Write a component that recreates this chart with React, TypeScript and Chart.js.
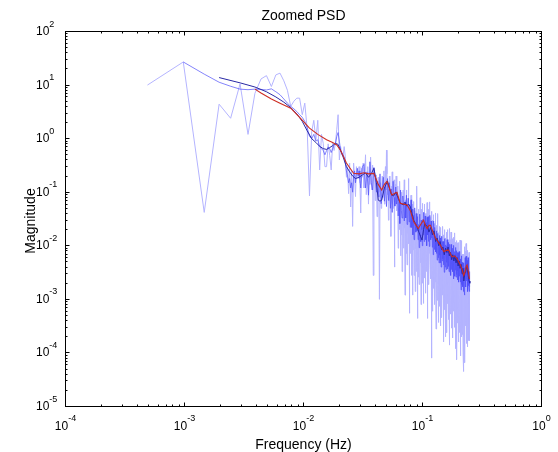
import React, { useEffect, useRef } from 'react';
import { Chart, registerables } from 'chart.js';

Chart.register(...registerables);

// ---------------- data ----------------
const BIN_HZ = 1 / 2048; // frequency resolution of the periodogram (Hz per bin)

const chartTitle = 'Zoomed PSD';
const xAxisTitle = 'Frequency (Hz)';
const yAxisTitle = 'Magnitude';

const xTickExps = [-4, -3, -2, -1, 0];
const yTickExps = [-5, -4, -3, -2, -1, 0, 1, 2];

// raw periodogram, bins 1..128
const rawLowStartBin = 1;
const rawLow = [
  10, 27, 0.042, 4.4, 2.4, 10.5, 1.2, 7, 13, 15,
  9.4, 15.5, 16.7, 12, 8, 4, 5, 5.7, 5.7, 2.8,
  4.6, 1.5, 0.085, 1.35, 2.2, 0.95, 2.2, 0.26, 1.2, 0.82,
  0.3, 0.3, 0.8, 0.49, 0.26, 0.82, 0.6, 0.82, 1.5, 2.8,
  0.4, 0.71, 0.5, 0.46, 0.71, 0.46, 0.19, 0.3, 0.094, 0.35,
  0.053, 0.25, 0.023, 0.35, 0.2, 0.083, 0.3, 0.25, 0.18, 0.3,
  0.15, 0.041, 0.28, 0.19, 0.35, 0.12, 0.22, 0.5, 0.09, 0.17,
  0.3, 0.06, 0.24, 0.14, 0.45, 0.2, 0.11, 0.32, 0.0028, 0.18,
  0.26, 0.07, 0.16, 0.21, 0.035, 0.13, 0.19, 0.1, 0.001, 0.09,
  0.15, 0.05, 0.12, 0.2, 0.08, 0.14, 0.25, 0.06, 0.18, 0.3,
  0.11, 0.61, 0.22, 0.09, 0.16, 0.03, 0.12, 0.2, 0.07, 0.1,
  0.015, 0.13, 0.06, 0.24, 0.09, 0.05, 0.11, 0.17, 0.004, 0.08,
  0.14, 0.06, 0.2, 0.1, 0.045, 0.13, 0.07, 0.009,
];

// raw periodogram, bins 129..512
const rawHighStartBin = 129;
const rawHigh = [
  0.03,
  0.085, 0.02, 0.16, 0.039, 0.0065, 0.065, 0.016, 0.1, 0.0033, 0.046,
  0.024, 0.11, 0.009, 0.054, 0.17, 0.021, 0.0012, 0.072, 0.033, 0.0072,
  0.11, 0.028, 0.0044, 0.077, 0.017, 0.044, 0.18, 0.011, 0.06, 0.00055,
  0.026, 0.0072, 0.068, 0.018, 0.088, 0.0028, 0.038, 0.011, 0.06, 0.0012,
  0.036, 0.0084, 0.067, 0.017, 0.0028, 0.028, 0.007, 0.045, 0.0014, 0.02,
  0.0088, 0.04, 0.0033, 0.02, 0.13, 0.0077, 0.00044, 0.026, 0.012, 0.0026,
  0.048, 0.012, 0.0019, 0.034, 0.0072, 0.019, 0.079, 0.0048, 0.026, 0.0008,
  0.018, 0.005, 0.048, 0.013, 0.062, 0.002, 0.027, 0.0078, 0.042, 0.00084,
  0.033, 0.0075, 0.06, 0.015, 0.0025, 0.025, 0.0063, 0.04, 0.0013, 0.018,
  0.0088, 0.04, 0.0033, 0.02, 0.064, 0.0077, 0.00044, 0.026, 0.012, 0.0026,
  0.048, 0.012, 0.0019, 0.034, 0.0072, 0.019, 0.066, 0.0048, 0.026, 0.0024,
  0.013, 0.0036, 0.034, 0.009, 0.044, 0.00008, 0.019, 0.0056, 0.03, 0.0006,
  0.021, 0.0048, 0.038, 0.0096, 0.0016, 0.016, 0.004, 0.026, 0.0008, 0.011,
  0.0056, 0.025, 0.0021, 0.013, 0.041, 0.0049, 0.00028, 0.017, 0.0077, 0.0017,
  0.024, 0.006, 0.00096, 0.017, 0.0036, 0.0096, 0.04, 0.0024, 0.013, 0.00037,
  0.0068, 0.0019, 0.018, 0.0047, 0.023, 0.00074, 0.01, 0.0029, 0.016, 0.00032,
  0.012, 0.0028, 0.022, 0.0055, 0.00092, 0.0092, 0.0023, 0.015, 0.00046, 0.0064,
  0.0032, 0.014, 0.0012, 0.0072, 0.023, 0.0028, 0.00016, 0.0096, 0.0044, 0.00096,
  0.016, 0.004, 0.00064, 0.011, 0.0024, 0.0064, 0.02, 0.0016, 0.0088, 0.0002,
  0.0052, 0.0014, 0.014, 0.0036, 0.018, 0.00056, 0.0076, 0.0022, 0.012, 0.00024,
  0.011, 0.0025, 0.02, 0.005, 0.00083, 0.0083, 0.0021, 0.013, 0.00042, 0.0058,
  0.0029, 0.013, 0.0011, 0.0065, 0.021, 0.0025, 0.00014, 0.0086, 0.004, 0.00086,
  0.013, 0.0033, 0.00053, 0.0092, 0.002, 0.0053, 0.018, 0.0013, 0.0073, 0.00029,
  0.004, 0.0011, 0.0105, 0.0028, 0.0136, 0.00043, 0.0059, 0.0017, 0.0093, 0.00019,
  0.0078, 0.0018, 0.0144, 0.0036, 0.0006, 0.006, 0.0015, 0.0096, 0.0003, 0.0042,
  0.0024, 0.0108, 0.0009, 0.0054, 0.0174, 0.0021, 0.00012, 0.0072, 0.0033, 0.00072,
  0.0116, 0.0029, 0.00046, 0.0081, 0.0017, 0.0046, 0.0125, 0.0012, 0.0064, 0.000075,
  0.0034, 0.00094, 0.0088, 0.0023, 0.0114, 0.00036, 0.0049, 0.0015, 0.0078, 0.00016,
  0.0062, 0.0014, 0.0115, 0.0029, 0.00048, 0.0048, 0.0012, 0.0077, 0.00024, 0.0034,
  0.0018, 0.0079, 0.00066, 0.004, 0.0128, 0.0015, 0.000088, 0.0053, 0.0024, 0.00053,
  0.0076, 0.0019, 0.0003, 0.0053, 0.0011, 0.003, 0.0125, 0.00076, 0.0042, 0.0002,
  0.0021, 0.00058, 0.0054, 0.0014, 0.007, 0.00022, 0.003, 0.0009, 0.0048, 0.0001,
  0.0038, 0.00087, 0.007, 0.0017, 0.00029, 0.000045, 0.00073, 0.0046, 0.00015, 0.002,
  0.0013, 0.0059, 0.0005, 0.003, 0.0096, 0.0012, 0.000066, 0.004, 0.0018, 0.0004,
  0.008, 0.002, 0.00032, 0.0056, 0.0012, 0.0032, 0.011, 0.0008, 0.0044, 0.00015,
  0.0028, 0.00077, 0.0073, 0.0019, 0.0095, 0.0003, 0.0041, 0.0012, 0.0065, 0.00013,
  0.0044, 0.001, 0.0082, 0.002, 0.00034, 0.0034, 0.00085, 0.0054, 0.00017, 0.0024,
  0.001, 0.0047, 0.00039, 0.0023, 0.0075, 0.0009, 0.00017, 0.0031, 0.0014, 0.00031,
  0.0036, 0.0011, 0.00017,
];

// lightly smoothed estimate, bins 2..64
const midLowStartBin = 2;
const midLow = [
  27, 16, 11.3, 9.5, 8.4, 8.2, 8.4, 8.3, 8.1,
  8.5, 7.5, 6.6, 5.5, 4.6, 4.0, 3.6, 3.2, 2.8, 2.5,
  2.1, 1.6, 1.1, 1.0, 1.2, 0.9, 0.95, 0.7, 0.65, 0.6,
  0.5, 0.6, 0.7, 0.65, 0.55, 0.65, 0.75, 0.8, 1.1, 1.3,
  0.9, 0.6, 0.55, 0.5, 0.45, 0.35, 0.25, 0.2, 0.15, 0.18,
  0.12, 0.15, 0.1, 0.2, 0.25, 0.15, 0.22, 0.28, 0.2, 0.25,
  0.18, 0.12, 0.2, 0.3,
];

// lightly smoothed estimate, bins 66..512 (every second bin)
const midHighStartBin = 66;
const midHighStep = 2;
const midHigh = [
  0.33, 0.12, 0.24, 0.088, 0.37, 0.15, 0.11, 0.29, 0.19, 0.1,
  0.16, 0.081, 0.22, 0.061, 0.12, 0.19, 0.068, 0.14, 0.054, 0.18,
  0.07, 0.15, 0.05, 0.115, 0.042, 0.16, 0.08, 0.055, 0.125, 0.06,
  0.098, 0.036, 0.072, 0.026, 0.11, 0.046, 0.033, 0.085, 0.055, 0.029,
  0.066, 0.033, 0.088, 0.025, 0.05, 0.077, 0.028, 0.058, 0.022, 0.072,
  0.022, 0.048, 0.016, 0.037, 0.013, 0.051, 0.026, 0.018, 0.04, 0.019,
  0.035, 0.013, 0.025, 0.0092, 0.039, 0.016, 0.012, 0.03, 0.02, 0.01,
  0.031, 0.016, 0.042, 0.012, 0.023, 0.036, 0.013, 0.027, 0.01, 0.034,
  0.016, 0.035, 0.012, 0.026, 0.0097, 0.037, 0.018, 0.013, 0.029, 0.014,
  0.026, 0.0094, 0.019, 0.0068, 0.029, 0.012, 0.0085, 0.022, 0.014, 0.0077,
  0.014, 0.0072, 0.019, 0.0054, 0.011, 0.017, 0.006, 0.0126, 0.0048, 0.0156,
  0.0067, 0.014, 0.0048, 0.011, 0.004, 0.015, 0.0076, 0.0052, 0.012, 0.0057,
  0.012, 0.0044, 0.0088, 0.0032, 0.0136, 0.0056, 0.004, 0.0104, 0.0068, 0.0036,
  0.0098, 0.0049, 0.013, 0.0037, 0.0074, 0.0115, 0.0041, 0.0086, 0.0033, 0.0107,
  0.0046, 0.0099, 0.0033, 0.0076, 0.0028, 0.0106, 0.0053, 0.0036, 0.0083, 0.004,
  0.009, 0.0033, 0.0066, 0.0024, 0.0102, 0.0042, 0.003, 0.0078, 0.0051, 0.0027,
  0.007, 0.0035, 0.0093, 0.0026, 0.0052, 0.0081, 0.0029, 0.0061, 0.0023, 0.0075,
  0.0034, 0.0074, 0.0025, 0.0056, 0.0021, 0.0078, 0.0039, 0.0027, 0.0061, 0.0029,
  0.0057, 0.0021, 0.0042, 0.0015, 0.0065, 0.0027, 0.0019, 0.0049, 0.0032, 0.0017,
  0.0036, 0.0018, 0.0048, 0.0014, 0.0027, 0.0042, 0.0015, 0.0032, 0.0012, 0.0039,
  0.0028, 0.006, 0.002, 0.0046, 0.0017, 0.0064, 0.0032, 0.0022, 0.005, 0.0024,
  0.0053, 0.0019, 0.0039, 0.0014, 0.006, 0.0025, 0.0018, 0.0046, 0.003, 0.0016,
  0.003, 0.0014, 0.0033, 0.0017,
];

// stronger smoothing (dark blue)
const darkBins = [
  4, 6, 8, 10, 12, 14, 16, 18, 20, 22,
  24, 26, 28, 30, 32, 34, 36, 38, 40, 42,
  44, 47, 50, 53, 56, 60, 64, 68, 72, 76,
  80, 84, 87, 90, 93, 98, 104, 108, 112, 117,
  122, 127, 132, 137, 141, 146, 151, 156, 162, 167,
  173, 179, 185, 191, 197, 203, 209, 214, 220, 226,
  232, 240, 248, 256, 264, 272, 280, 288, 296, 304,
  312, 320, 328, 336, 344, 352, 360, 368, 376, 384,
  392, 400, 408, 416, 424, 432, 440, 448, 456, 464,
  472, 480, 488, 496, 504, 512,
];
const darkVals = [
  13.8, 11, 9.2, 7.5, 6.0, 4.8, 3.8, 2.9, 2.1, 1.4,
  1.0, 0.85, 0.72, 0.65, 0.63, 0.68, 0.74, 0.82, 0.78, 0.6,
  0.46, 0.3, 0.24, 0.2, 0.18, 0.19, 0.21, 0.23, 0.19, 0.22,
  0.28, 0.15, 0.071, 0.068, 0.071, 0.12, 0.16, 0.12, 0.09, 0.085,
  0.1, 0.08, 0.065, 0.06, 0.058, 0.065, 0.055, 0.06, 0.054, 0.04,
  0.03, 0.026, 0.022, 0.018, 0.015, 0.0128, 0.02, 0.026, 0.024, 0.023,
  0.018, 0.022, 0.016, 0.019, 0.012, 0.014, 0.01, 0.012, 0.0085, 0.0095,
  0.0068, 0.009, 0.0075, 0.0095, 0.0065, 0.0075, 0.0055, 0.0068, 0.0052, 0.0065,
  0.0048, 0.006, 0.0042, 0.0052, 0.0038, 0.0045, 0.003, 0.0038, 0.0022, 0.003,
  0.0032, 0.0042, 0.0036, 0.0028, 0.0022, 0.002,
];

// strongest smoothing (red)
const redBins = [
  8, 9, 11, 13, 16, 19, 23, 27, 32, 36,
  39, 42, 47, 54, 60, 66, 72, 80, 87, 93,
  98, 103, 108, 113, 119, 125, 133, 142, 152, 162,
  173, 181, 189, 200, 209, 217, 224, 232, 239, 251,
  263, 276, 290, 300, 309, 323, 340, 352, 363, 381,
  400, 413, 426, 440, 455, 465, 478, 485, 496, 508,
];
const redVals = [
  8.4, 7.1, 5.5, 4.6, 3.7, 2.5, 1.57, 1.2, 0.95, 0.85,
  0.76, 0.6, 0.35, 0.225, 0.22, 0.23, 0.22, 0.225, 0.14, 0.11,
  0.14, 0.16, 0.12, 0.089, 0.095, 0.1, 0.062, 0.06, 0.058, 0.045,
  0.028, 0.024, 0.021, 0.026, 0.03, 0.024, 0.021, 0.024, 0.024, 0.018,
  0.014, 0.012, 0.0102, 0.0088, 0.0078, 0.0082, 0.0083, 0.007, 0.0062, 0.0065,
  0.0058, 0.005, 0.0044, 0.0036, 0.0028, 0.0032, 0.0042, 0.0044, 0.0034, 0.0024,
];

// ---------------- helpers ----------------
const binSeries = (start: number, step: number, vals: number[]) =>
  vals.map((v, i) => ({ x: (start + i * step) * BIN_HZ, y: v }));
const pairSeries = (bins: number[], vals: number[]) =>
  bins.map((b, i) => ({ x: b * BIN_HZ, y: vals[i] }));

const FONT = '"Liberation Sans", Arial, Helvetica, sans-serif';

const framePlugin = {
  id: 'matlabFrame',
  afterDraw(chart: any) {
    const { ctx, chartArea } = chart;
    const { left, right, top, bottom } = chartArea;
    const xs = chart.scales.x;
    const ys = chart.scales.y;
    ctx.save();
    ctx.strokeStyle = '#000';
    ctx.lineWidth = 1;
    ctx.strokeRect(left, top, right - left, bottom - top);

    const snap = (p: number) => Math.round(p - 0.5) + 0.5;
    ctx.beginPath();
    for (let ei = 0; ei < xTickExps.length; ei++) {
      const e = xTickExps[ei];
      for (let m = 1; m <= 9; m++) {
        if (m > 1 && ei === xTickExps.length - 1) break;
        const px = snap(xs.getPixelForValue(m * Math.pow(10, e)));
        const len = m === 1 ? 4 : 2;
        ctx.moveTo(px, bottom); ctx.lineTo(px, bottom - len);
        ctx.moveTo(px, top); ctx.lineTo(px, top + len);
      }
    }
    for (let ei = 0; ei < yTickExps.length; ei++) {
      const e = yTickExps[ei];
      for (let m = 1; m <= 9; m++) {
        if (m > 1 && ei === yTickExps.length - 1) break;
        const py = snap(ys.getPixelForValue(m * Math.pow(10, e)));
        const len = m === 1 ? 4 : 2;
        ctx.moveTo(left, py); ctx.lineTo(left + len, py);
        ctx.moveTo(right, py); ctx.lineTo(right - len, py);
      }
    }
    ctx.stroke();

    ctx.fillStyle = '#000';
    ctx.textBaseline = 'alphabetic';
    const baseFont = '12px ' + FONT;
    const expFont = '9px ' + FONT;
    for (const e of xTickExps) {
      const px = xs.getPixelForValue(Math.pow(10, e));
      ctx.font = baseFont;
      const wb = ctx.measureText('10').width;
      ctx.font = expFont;
      const we = ctx.measureText(String(e)).width;
      const start = px - (wb + we) / 2;
      ctx.textAlign = 'left';
      ctx.font = baseFont;
      ctx.fillText('10', start, 430);
      ctx.font = expFont;
      ctx.fillText(String(e), start + wb, 421);
    }
    for (const e of yTickExps) {
      const py = ys.getPixelForValue(Math.pow(10, e));
      ctx.textAlign = 'left';
      ctx.font = baseFont;
      const wb = ctx.measureText('10').width;
      ctx.fillText('10', 36, py + 3.5);
      ctx.font = expFont;
      ctx.fillText(String(e), 36 + wb, py - 5);
    }

    ctx.font = '14px ' + FONT;
    ctx.textAlign = 'center';
    const cx = (left + right) / 2;
    ctx.fillText(chartTitle, cx, 19.5);
    ctx.fillText(xAxisTitle, cx, 449);
    ctx.save();
    ctx.translate(34.5, (top + bottom) / 2 + 2);
    ctx.rotate(-Math.PI / 2);
    ctx.fillText(yAxisTitle, 0, 0);
    ctx.restore();
    ctx.restore();
  },
};

export default function App() {
  const ref = useRef<HTMLCanvasElement | null>(null);
  useEffect(() => {
    if (!ref.current) return;
    const raw = [...binSeries(rawLowStartBin, 1, rawLow), ...binSeries(rawHighStartBin, 1, rawHigh)];
    const mid = [...binSeries(midLowStartBin, 1, midLow), ...binSeries(midHighStartBin, midHighStep, midHigh)];
    const dark = pairSeries(darkBins, darkVals);
    const red = pairSeries(redBins, redVals);
    const common = { pointRadius: 0, pointHoverRadius: 0, tension: 0, fill: false };
    const chart = new Chart(ref.current, {
      type: 'line',
      data: {
        datasets: [
          { label: 'red', data: red, borderColor: 'rgb(205,45,35)', borderWidth: 1.1, ...common },
          { label: 'dark', data: dark, borderColor: 'rgb(40,40,165)', borderWidth: 1, ...common },
          { label: 'mid', data: mid, borderColor: 'rgba(80,80,250,0.7)', borderWidth: 1, ...common },
          { label: 'raw', data: raw, borderColor: 'rgb(180,180,255)', borderWidth: 1, ...common },
        ],
      },
      options: {
        animation: false,
        responsive: false,
        devicePixelRatio: 1,
        layout: { padding: { left: 65.5, right: 16.5, top: 31.5, bottom: 45.5 } },
        plugins: { legend: { display: false }, tooltip: { enabled: false }, title: { display: false } },
        scales: {
          x: { type: 'logarithmic', min: 1e-4, max: 1, display: false },
          y: { type: 'logarithmic', min: 1e-5, max: 100, display: false },
        },
      },
      plugins: [framePlugin],
    } as any);
    return () => chart.destroy();
  }, []);
  return (
    <div style={{ position: 'absolute', left: 0, top: 0, width: 558, height: 452, background: '#fff' }}>
      <canvas ref={ref} width={558} height={452} />
    </div>
  );
}
